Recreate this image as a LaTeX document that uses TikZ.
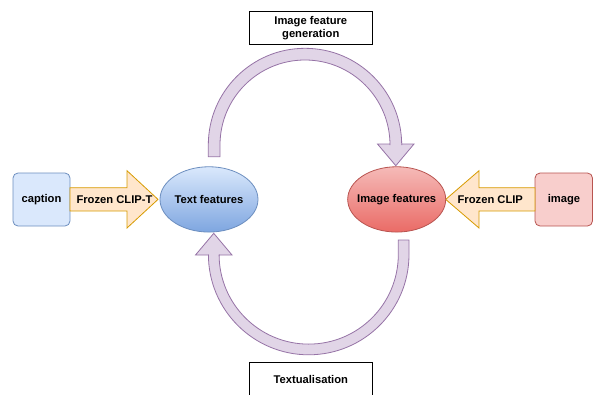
\documentclass[tikz,border=0pt]{standalone}
\usepackage{fontspec}
\setmainfont{Liberation Sans}
\definecolor{bluefill}{HTML}{DAE8FC}
\definecolor{bluedark}{HTML}{7EA6E0}
\definecolor{bluestroke}{HTML}{6C8EBF}
\definecolor{redfill}{HTML}{F8CECC}
\definecolor{reddark}{HTML}{EA6B66}
\definecolor{redstroke}{HTML}{B85450}
\definecolor{orfill}{HTML}{FFE6CC}
\definecolor{orstroke}{HTML}{D79B00}
\definecolor{purfill}{HTML}{E1D5E7}
\definecolor{purstroke}{HTML}{9673A6}
\tikzset{
  lbl/.style={font=\fontsize{11.2}{13}\selectfont\bfseries, inner sep=0pt, align=center},
  bluebox/.style={draw=bluestroke, fill=bluefill, rounded corners=5pt, line width=0.8pt},
  redbox/.style={draw=redstroke, fill=redfill, rounded corners=5pt, line width=0.8pt},
  orarrow/.style={draw=orstroke, fill=orfill, line width=0.8pt, line join=miter},
  purarrow/.style={draw=purstroke, fill=purfill, line width=0.8pt},
  plainbox/.style={draw=black, fill=white, line width=0.8pt},
  featell/.style={ellipse, minimum width=98pt, minimum height=65.3pt, line width=0.8pt, inner sep=0pt},
}
\usetikzlibrary{shapes.geometric}
\begin{document}
\begin{tikzpicture}[x=1pt,y=-1pt]
\useasboundingbox (0,0) rectangle (594,394);
% side boxes
\draw[bluebox] (13,173) rectangle (70,226);
\node[lbl] (caption) at (41.5,199.5) {caption};
\draw[redbox] (535,173) rectangle (592.5,226);
\node[lbl] (image) at (564,199.5) {image};
% orange block arrows
\draw[orarrow] (70,187.7) -- (127,187.7) -- (127,170.7) -- (158,199.4) -- (127,228) -- (127,211) -- (70,211) -- cycle;
\node[lbl] (clipt) at (114.5,199.5) {Frozen CLIP-T};
\draw[orarrow] (535,187.7) -- (479,187.7) -- (479,170.7) -- (445.7,199.4) -- (479,228) -- (479,211) -- (535,211) -- cycle;
\node[lbl] (clip) at (490.3,199.5) {Frozen CLIP};
% feature ellipses
\node[featell, draw=bluestroke, top color=bluefill, bottom color=bluedark] (textf) at (209,199.4) {};
\node[lbl] (textft) at (209,199.5) {Text features};
\node[featell, draw=redstroke, top color=redfill!80!reddark, bottom color=reddark] (imgf) at (396.7,199.4) {};
\node[lbl] (imgft) at (396.7,199.5) {Image features};
% top curved arrow
\draw[purarrow] (208.3,156.7) -- (208.3,145) arc[start angle=180,end angle=360,radius=96.7]
  -- (401.7,144) -- (414,144) -- (395.8,165.7) -- (377.5,144) -- (390,144) -- (390,145)
  arc[start angle=360,end angle=180,radius=85] -- (220,156.7) -- cycle;
% bottom curved arrow
\draw[purarrow] (409,240) -- (409,254.5) arc[start angle=0,end angle=180,radius=100.3]
  -- (208.4,255) -- (195.5,255) -- (213.75,233.3) -- (232,255) -- (219.1,255) -- (219.1,254.5)
  arc[start angle=180,end angle=0,radius=89.6] -- (398.3,240) -- cycle;
% label boxes
\draw[plainbox] (249.3,11.7) rectangle (372.3,44);
\node[lbl] (gen) at (310.8,28) {Image feature\\generation};
\draw[plainbox] (249.3,362.7) rectangle (372.3,396);
\node[lbl] (textu) at (310.8,379.5) {Textualisation};
\end{tikzpicture}
\end{document}
